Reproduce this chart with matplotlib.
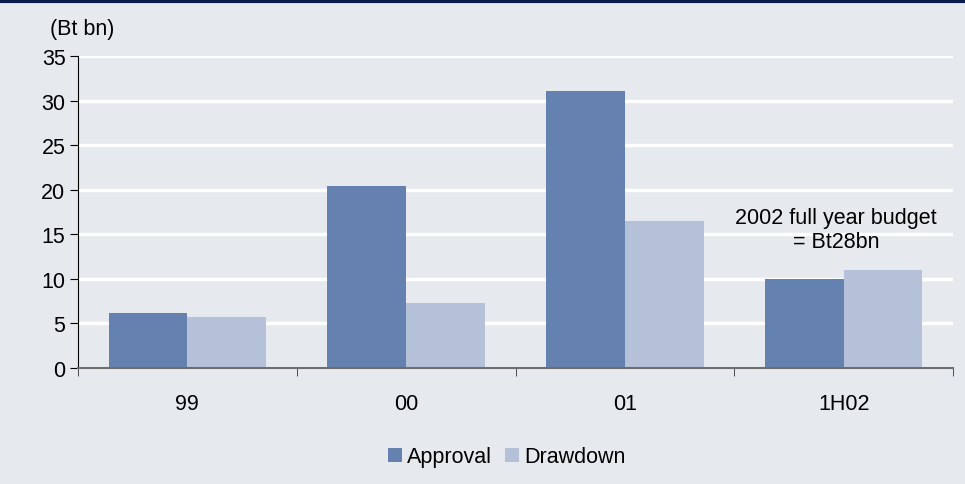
import matplotlib.pyplot as plt
import numpy as np
from matplotlib.lines import Line2D

plt.rcParams["font.family"] = ["Liberation Sans", "DejaVu Sans"]

categories = ["99", "00", "01", "1H02"]
approval = [6.2, 20.4, 31.1, 10.0]
drawdown = [5.7, 7.3, 16.5, 11.0]

bg = "#E6E9EE"
c_appr = "#6581B0"
c_draw = "#B4C1D8"
fs = 15.5

fig = plt.figure(figsize=(9.65, 4.85), dpi=100, facecolor=bg)
ax = fig.add_axes([78 / 965, 1 - 369 / 485, (953 - 78) / 965, 312 / 485])
ax.set_facecolor(bg)

x = np.arange(len(categories))
w = 0.36
ax.bar(x - w / 2, approval, w, color=c_appr, label="Approval", zorder=2)
ax.bar(x + w / 2, drawdown, w, color=c_draw, label="Drawdown", zorder=2)

ax.set_xlim(-0.5, len(categories) - 0.5)
ax.set_ylim(0, 35)
ax.set_yticks(range(0, 36, 5))
ax.yaxis.grid(True, color="white", linewidth=2.5, zorder=1)
ax.set_axisbelow(True)

ax.set_xticks(x)
ax.set_xticklabels(categories)
ax.set_xticks(np.arange(-0.5, len(categories)), minor=True)
ax.tick_params(axis="x", which="major", length=0, pad=18, labelsize=fs)
ax.tick_params(axis="x", which="minor", length=6, direction="out", color="#333333")
ax.tick_params(axis="y", length=6, direction="out", labelsize=fs, pad=3)

for s in ["top", "right"]:
    ax.spines[s].set_visible(False)
ax.spines["left"].set_color("black")
ax.spines["bottom"].set_color("#6E6E6E")
ax.spines["bottom"].set_linewidth(1.5)

ax.text(2.965, 15.5, "2002 full year budget\n= Bt28bn", ha="center", va="center",
        fontsize=fs, linespacing=1.2)
fig.text(50 / 965, 1 - 30 / 485, "(Bt bn)", fontsize=fs, va="center", ha="left")

handles, labels = ax.get_legend_handles_labels()
fig.legend(handles, labels, loc="center", bbox_to_anchor=(507 / 965, 1 - 458 / 485),
           ncol=2, frameon=False, fontsize=fs, handlelength=0.65, handleheight=0.65,
           handletextpad=0.25, columnspacing=0.6)

fig.add_artist(Line2D([0, 1], [1 - 1.5 / 485, 1 - 1.5 / 485], color="#0B1A4A",
                      linewidth=3, transform=fig.transFigure))

fig.savefig("out.png", dpi=100, facecolor=bg)
